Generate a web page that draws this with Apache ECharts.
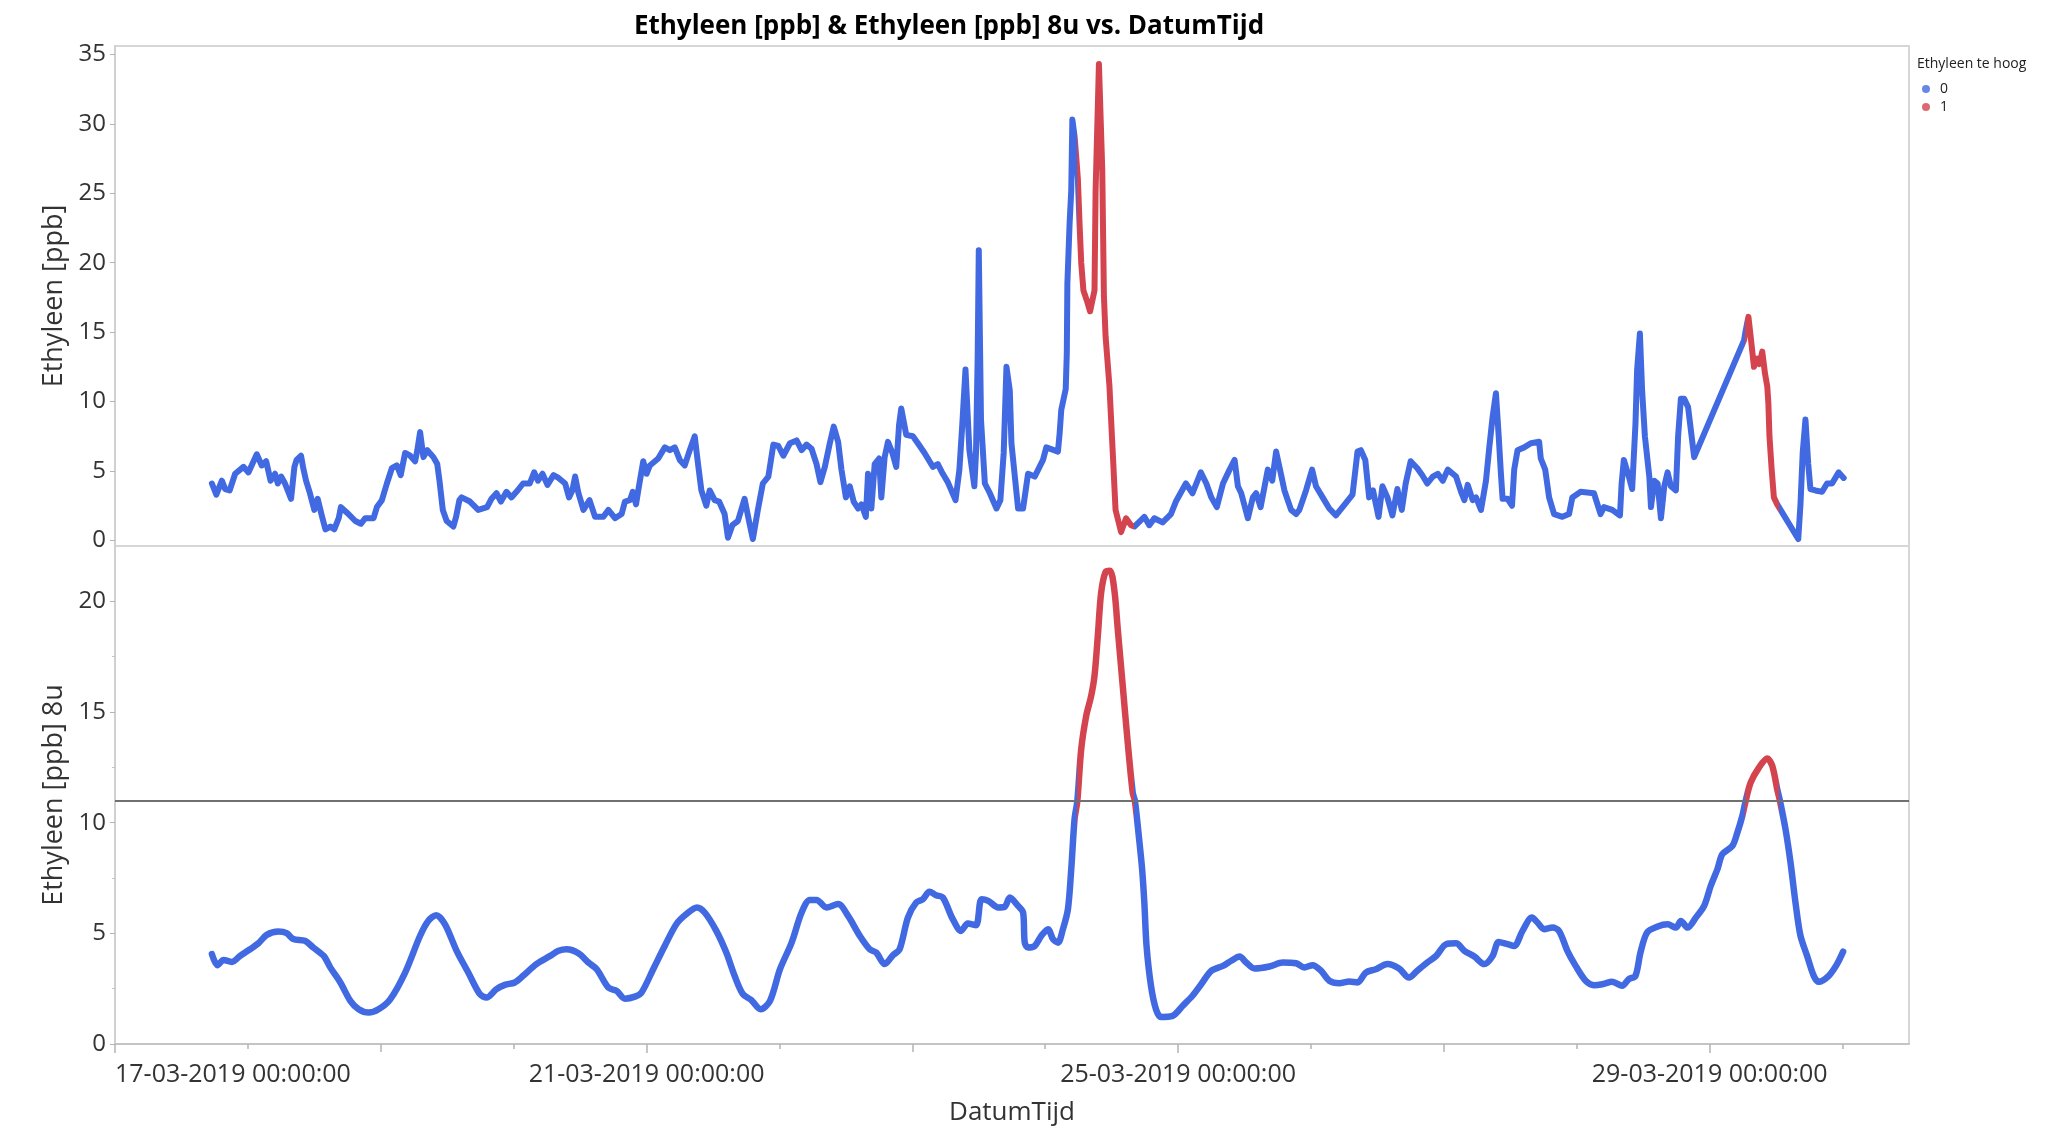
<!DOCTYPE html>
<html>
<head>
<meta charset="utf-8">
<script src="https://cdn.jsdelivr.net/npm/echarts@6/dist/echarts.min.js"></script>
<style>html,body{margin:0;padding:0;background:#fff}#c{width:2060px;height:1130px}</style>
</head>
<body>
<div id="c"></div>
<script>
// Hours since 17-03-2019 00:00:00
const ppbHours = [17.5,18.3,19.3,19.9,20.7,21.7,23.2,24.1,25.6,26.5,27.3,28.1,28.9,29.4,30.0,30.7,31.8,32.4,32.8,33.6,34.0,34.5,35.2,36.0,36.6,37.4,38.0,38.9,39.6,40.4,40.8,41.9,43.4,44.4,45.2,46.7,47.3,48.2,49.1,50.0,50.9,51.6,52.4,53.3,54.2,54.6,55.1,55.7,56.4,57.5,58.2,58.6,59.2,59.9,61.1,61.6,62.2,62.6,64.1,65.6,67.2,68.0,68.9,69.7,70.7,71.6,72.5,73.7,74.9,75.7,76.4,77.2,78.1,79.2,80.1,81.3,82.0,82.6,83.1,83.7,84.6,85.7,86.7,88.2,89.1,90.3,91.5,92.1,93.0,93.5,94.1,94.5,95.4,96.0,96.6,98.1,99.3,100.2,101.1,102.0,102.9,103.8,104.7,105.3,105.9,106.8,107.4,108.3,109.1,110.1,110.7,111.5,112.5,113.7,114.5,115.2,116.1,117.0,118.0,118.9,119.8,120.7,121.9,123.1,124.0,124.9,125.8,126.7,127.4,128.2,129.1,129.8,130.6,131.2,132.0,132.7,133.4,134.2,134.8,135.6,136.0,136.6,137.2,138.0,138.4,139.0,139.6,140.4,141.1,141.6,142.0,142.9,144.1,145.0,146.2,147.7,148.6,149.5,150.4,151.8,152.5,153.0,153.6,154.3,155.2,155.5,155.8,156.0,156.4,157.1,158.0,159.2,159.9,160.5,161.0,161.6,161.9,163.1,164.0,164.9,166.1,167.6,168.2,170.3,170.6,170.9,171.7,171.9,172.0,172.4,172.7,172.9,173.3,173.6,173.9,174.2,174.5,174.9,175.5,176.1,176.9,177.1,177.7,178.3,178.6,178.9,179.6,180.2,180.7,181.7,182.6,183.5,184.1,185.9,186.8,187.7,189.2,190.7,191.6,193.4,194.6,196.1,197.1,198.0,199.0,200.1,201.3,202.2,202.8,203.4,204.6,205.5,206.1,206.9,208.2,209.0,209.7,210.4,211.2,212.4,213.3,213.9,215.1,216.2,216.9,218.1,219.3,220.5,221.7,223.5,224.4,225.0,225.8,226.5,227.2,228.2,228.9,229.8,230.7,231.6,232.4,233.1,234.0,235.2,236.1,237.0,238.0,238.9,239.8,240.7,242.2,243.1,243.7,244.3,245.2,245.8,246.7,247.6,248.2,248.8,249.4,249.9,250.3,250.6,251.5,252.3,252.7,253.3,254.5,255.7,257.2,257.5,258.3,259.0,259.9,261.4,262.6,263.2,264.7,267.1,268.3,268.9,270.4,271.8,272.1,272.5,273.4,274.0,274.6,274.9,275.4,275.8,276.3,277.1,277.4,278.0,278.6,279.2,279.8,280.4,281.0,281.9,282.3,282.8,283.4,284.1,285.2,294.2,294.5,295.0,295.4,296.0,296.6,297.0,297.5,298.0,298.4,298.6,298.8,299.2,299.6,300.2,304.0,304.4,304.8,305.3,305.8,306.2,307.1,308.3,309.2,310.1,311.3,312.2];
const ppbValues = [4.1,3.3,4.3,3.7,3.6,4.8,5.3,4.9,6.2,5.4,5.7,4.3,4.8,4.1,4.6,4.1,3.0,5.3,5.8,6.1,5.2,4.3,3.4,2.2,3.0,1.7,0.8,1.0,0.8,1.6,2.4,2.0,1.4,1.2,1.6,1.6,2.4,2.9,4.1,5.2,5.4,4.7,6.3,6.1,5.7,6.5,7.8,6.0,6.5,6.0,5.5,4.3,2.2,1.4,1.0,1.7,2.9,3.1,2.8,2.2,2.4,3.0,3.4,2.8,3.5,3.1,3.5,4.1,4.1,4.9,4.3,4.8,4.0,4.7,4.5,4.1,3.1,3.6,4.6,3.4,2.2,2.9,1.7,1.7,2.2,1.6,1.9,2.8,2.9,3.5,2.6,3.6,5.7,4.8,5.4,5.9,6.7,6.5,6.7,5.8,5.4,6.5,7.5,5.5,3.6,2.5,3.6,2.9,2.8,1.9,0.2,1.1,1.4,3.0,1.4,0.1,2.2,4.1,4.6,6.9,6.8,6.1,7.0,7.2,6.5,6.9,6.6,5.5,4.2,5.3,7.0,8.2,7.1,5.1,3.1,3.9,2.8,2.3,2.6,1.7,4.8,2.3,5.5,5.9,3.1,6.0,7.1,6.3,5.3,8.3,9.5,7.6,7.5,7.0,6.3,5.3,5.5,4.8,4.2,2.9,5.1,8.2,12.3,6.5,3.9,6.3,13.2,20.9,8.7,4.1,3.4,2.3,2.9,6.3,12.5,10.8,7.0,2.3,2.3,4.8,4.6,5.8,6.7,6.4,7.7,9.4,10.9,13.5,18.5,22.8,25.2,30.3,29.1,27.6,26.0,22.8,20.0,18.0,17.3,16.5,18.0,25.2,34.3,26.7,17.6,14.7,11.1,6.3,2.2,0.6,1.6,1.1,1.0,1.7,1.1,1.6,1.3,1.9,2.8,4.1,3.4,4.9,4.1,3.1,2.4,4.1,5.1,5.8,3.9,3.4,1.6,3.1,3.4,2.4,5.1,4.3,6.4,5.1,3.6,2.2,1.9,2.2,3.6,5.1,3.9,3.1,2.3,1.8,2.4,3.3,6.4,6.5,5.8,3.1,3.6,1.7,3.9,3.1,1.8,3.7,2.2,4.1,5.7,5.2,4.7,4.1,4.6,4.8,4.3,5.1,4.6,3.5,2.9,4.0,2.9,3.1,2.2,4.3,6.7,8.9,10.6,7.5,4.8,3.0,3.0,2.5,5.1,6.5,6.7,7.0,7.1,5.9,5.1,3.1,1.9,1.7,1.9,3.1,3.5,3.4,1.9,2.4,2.2,1.8,4.1,5.8,4.6,3.7,8.4,12.3,14.9,10.8,7.5,4.6,2.4,4.3,4.1,1.6,3.9,4.9,3.9,3.6,7.5,10.2,10.2,9.6,6.0,14.4,15.1,16.1,14.7,12.5,13.1,12.7,13.6,12.0,11.1,9.9,7.5,5.1,3.1,2.6,0.1,2.6,6.3,8.7,5.5,3.7,3.6,3.5,4.1,4.1,4.9,4.5];

const avgHours = [17.5,18.5,19.6,21.1,22.6,24.4,25.9,27.4,29.5,31.0,32.2,34.3,35.8,37.7,38.9,40.7,42.5,44.0,45.8,47.6,49.7,52.4,55.1,56.6,58.0,59.6,61.7,63.8,65.9,67.1,68.9,70.4,72.2,73.7,76.1,78.6,80.1,81.6,83.7,85.5,87.0,89.1,90.6,92.1,93.9,95.1,97.2,99.3,101.4,103.2,105.1,106.5,108.6,110.4,111.9,113.4,114.9,116.6,118.3,120.1,122.2,124.0,125.5,126.7,128.5,130.6,132.4,134.5,136.3,137.5,139.0,140.5,141.7,143.2,144.7,145.9,147.1,148.3,149.5,151.3,152.8,154.0,155.5,156.5,157.7,159.5,160.7,161.6,163.1,164.0,164.3,164.9,166.1,167.3,168.5,169.4,170.3,171.2,172.1,172.7,173.3,173.8,174.5,175.4,176.3,176.9,177.5,178.1,178.9,179.7,180.5,181.1,182.0,182.9,183.8,184.2,184.9,185.5,185.9,186.3,187.1,188.0,188.9,191.0,192.8,194.6,196.2,198.0,200.1,201.6,203.1,204.3,205.8,208.5,210.9,213.3,214.8,216.3,217.8,219.3,221.1,222.9,224.4,225.9,227.7,229.8,231.9,233.7,235.2,237.0,238.6,240.4,242.2,243.7,245.5,247.3,248.8,249.9,251.5,252.7,254.2,255.9,256.9,258.1,259.6,260.8,262.3,263.8,265.6,267.1,268.6,270.4,272.2,273.4,274.6,275.5,276.7,278.6,280.4,281.9,282.8,284.0,285.5,287.0,288.2,289.4,290.3,292.1,293.0,293.9,294.5,295.4,296.9,298.4,299.3,300.2,300.7,301.7,302.6,303.5,304.4,305.6,306.8,307.7,309.5,311.0,312.1];
const avgValues = [4.06,3.56,3.80,3.71,3.98,4.28,4.55,4.93,5.08,5.01,4.74,4.66,4.36,3.98,3.45,2.78,1.95,1.57,1.42,1.57,2.02,3.23,4.89,5.57,5.82,5.41,4.21,3.23,2.25,2.10,2.48,2.67,2.78,3.08,3.61,3.98,4.21,4.28,4.10,3.68,3.38,2.55,2.40,2.05,2.14,2.33,3.38,4.44,5.42,5.87,6.17,5.94,5.11,4.13,3.08,2.25,1.99,1.57,1.95,3.38,4.58,5.94,6.51,6.51,6.17,6.32,5.79,4.89,4.28,4.13,3.61,4.01,4.28,5.71,6.39,6.54,6.88,6.72,6.62,5.64,5.11,5.44,5.37,6.54,6.47,6.17,6.20,6.62,6.24,5.94,4.58,4.36,4.43,4.89,5.19,4.74,4.58,5.19,6.09,7.90,10.16,10.98,13.32,14.82,15.73,16.63,18.44,20.39,21.33,21.38,20.47,18.74,16.18,13.62,11.36,10.98,9.40,7.90,6.39,4.43,2.63,1.57,1.22,1.27,1.72,2.18,2.71,3.31,3.53,3.76,3.95,3.68,3.41,3.50,3.68,3.65,3.46,3.56,3.31,2.86,2.75,2.82,2.78,3.23,3.38,3.61,3.41,3.00,3.31,3.68,3.98,4.51,4.55,4.21,3.95,3.61,3.98,4.61,4.51,4.43,5.11,5.71,5.49,5.19,5.26,5.11,4.21,3.53,2.86,2.66,2.70,2.81,2.63,2.93,3.08,4.13,5.04,5.31,5.41,5.26,5.56,5.26,5.71,6.24,7.15,7.90,8.58,8.95,9.55,10.31,10.98,11.81,12.49,12.90,12.57,11.51,10.98,9.70,8.20,6.39,4.89,3.98,3.08,2.81,3.08,3.61,4.17];

// Periods (hours) in which "Ethyleen te hoog" = 1
const highPeriods = [[173.75, 184.0], [294.4, 300.6]];
const threshold = 11;
const xTickHours = [0, 96, 192, 288];
const xTickLabels = ['17-03-2019 00:00:00', '21-03-2019 00:00:00', '25-03-2019 00:00:00', '29-03-2019 00:00:00'];
const ppbTicks = [0, 5, 10, 15, 20, 25, 30, 35];
const avgTicks = [0, 5, 10, 15, 20];
const avgMinorTicks = [2.5, 7.5, 12.5, 17.5];
const legendCats = ['0', '1'];

const BLUE = '#4169E1', RED = '#D4444F';
const FONT = '"Open Sans", "Noto Sans", sans-serif';
const dayTicks = []; for (let d = 0; d <= 13; d++) dayTicks.push(d * 24);
const twoDayTicks = dayTicks.filter(h => h % 48 === 0);

const chart = echarts.init(document.getElementById('c'), null, {renderer: 'canvas'});
const pieces = highPeriods.map(p => ({gte: p[0], lte: p[1], color: RED}));

const hiddenX = (grid, ticks, len) => ({
  type: 'value', gridIndex: grid, min: 0, max: 324, position: 'bottom',
  axisLine: {show: false}, axisLabel: {show: false}, splitLine: {show: false},
  axisTick: {show: true, customValues: ticks, length: len, lineStyle: {color: '#b4b4b4', width: 1.5}}
});

chart.setOption({
  animation: false,
  textStyle: {fontFamily: FONT},
  graphic: [
    {type: 'text', x: 949, y: 27, style: {text: 'Ethyleen [ppb] & Ethyleen [ppb] 8u vs. DatumTijd', font: 'bold 26px ' + FONT, fill: '#000', textAlign: 'center', textVerticalAlign: 'middle'}},
    {type: 'text', x: 1917, y: 64, style: {text: 'Ethyleen te hoog', font: '14px ' + FONT, fill: '#222', textAlign: 'left', textVerticalAlign: 'middle'}}
  ],
  legend: {
    data: legendCats.map(n => ({name: n, icon: 'circle'})),
    orient: 'vertical', left: 1922, top: 82, padding: 0,
    itemWidth: 8, itemHeight: 8, itemGap: 4, selectedMode: false,
    textStyle: {fontSize: 14, color: '#222', fontFamily: FONT, padding: [0, 0, 0, 5]}
  },
  grid: [
    {left: 115, right: 151, top: 46, height: 500, show: true, borderColor: '#d6d6d6', borderWidth: 2},
    {left: 115, right: 151, top: 546, height: 498, show: true, borderColor: '#d6d6d6', borderWidth: 2}
  ],
  xAxis: [
    {type: 'value', gridIndex: 0, min: 0, max: 324, axisLine: {show: false}, axisTick: {show: false}, axisLabel: {show: false}, splitLine: {show: false}},
    {type: 'value', gridIndex: 1, min: 0, max: 324,
      axisLine: {show: true, lineStyle: {color: '#c4c4c4', width: 2}},
      axisTick: {show: true, customValues: xTickHours, length: 9, lineStyle: {color: '#b4b4b4', width: 1.5}},
      axisLabel: {show: true, customValues: xTickHours, formatter: v => xTickLabels[xTickHours.indexOf(v)] || '',
        fontSize: 25, color: '#333', margin: 18, alignMinLabel: 'left'},
      splitLine: {show: false},
      name: 'DatumTijd', nameLocation: 'middle', nameGap: 56, nameTextStyle: {fontSize: 26, color: '#333'}},
    hiddenX(1, twoDayTicks, 8),
    hiddenX(1, dayTicks, 5)
  ],
  yAxis: [
    {type: 'value', gridIndex: 0, min: -0.4, max: 35.6,
      axisLine: {show: true, lineStyle: {color: '#d0d0d0', width: 2}},
      axisTick: {show: true, customValues: ppbTicks, length: 5, lineStyle: {color: '#b4b4b4'}},
      axisLabel: {show: true, customValues: ppbTicks, fontSize: 24, color: '#333', margin: 9},
      splitLine: {show: false},
      name: 'Ethyleen [ppb]', nameLocation: 'middle', nameGap: 47, nameTextStyle: {fontSize: 27, color: '#333'}},
    {type: 'value', gridIndex: 1, min: 0, max: 22.5,
      axisLine: {show: true, lineStyle: {color: '#d0d0d0', width: 2}},
      axisTick: {show: true, customValues: avgTicks, length: 5, lineStyle: {color: '#b4b4b4'}},
      axisLabel: {show: true, customValues: avgTicks, fontSize: 24, color: '#333', margin: 9},
      splitLine: {show: false},
      name: 'Ethyleen [ppb] 8u', nameLocation: 'middle', nameGap: 47, nameTextStyle: {fontSize: 27, color: '#333'}},
    {type: 'value', gridIndex: 1, min: 0, max: 22.5, position: 'left',
      axisLine: {show: false}, axisLabel: {show: false}, splitLine: {show: false},
      axisTick: {show: true, customValues: avgMinorTicks, length: 3, lineStyle: {color: '#c4c4c4'}}}
  ],
  visualMap: [
    {type: 'piecewise', show: false, seriesIndex: 0, dimension: 0, pieces: pieces, outOfRange: {color: BLUE}},
    {type: 'piecewise', show: false, seriesIndex: 1, dimension: 0, pieces: pieces, outOfRange: {color: BLUE}}
  ],
  series: [
    {name: 'Ethyleen [ppb]', type: 'line', xAxisIndex: 0, yAxisIndex: 0,
      data: ppbHours.map((h, i) => [h, ppbValues[i]]),
      showSymbol: false, lineStyle: {width: 6, cap: 'round', join: 'round'}, z: 3},
    {name: 'Ethyleen [ppb] 8u', type: 'line', xAxisIndex: 1, yAxisIndex: 1,
      data: avgHours.map((h, i) => [h, avgValues[i]]),
      showSymbol: false, smooth: 0.3, lineStyle: {width: 6.5, cap: 'round', join: 'round'}, z: 3,
      markLine: {silent: true, symbol: 'none', label: {show: false},
        lineStyle: {color: '#707070', width: 2, type: 'solid'}, data: [{yAxis: threshold}]}},
    {name: legendCats[0], type: 'scatter', xAxisIndex: 0, yAxisIndex: 0, data: [], itemStyle: {color: BLUE}},
    {name: legendCats[1], type: 'scatter', xAxisIndex: 0, yAxisIndex: 0, data: [], itemStyle: {color: RED}}
  ]
});
</script>
</body>
</html>
